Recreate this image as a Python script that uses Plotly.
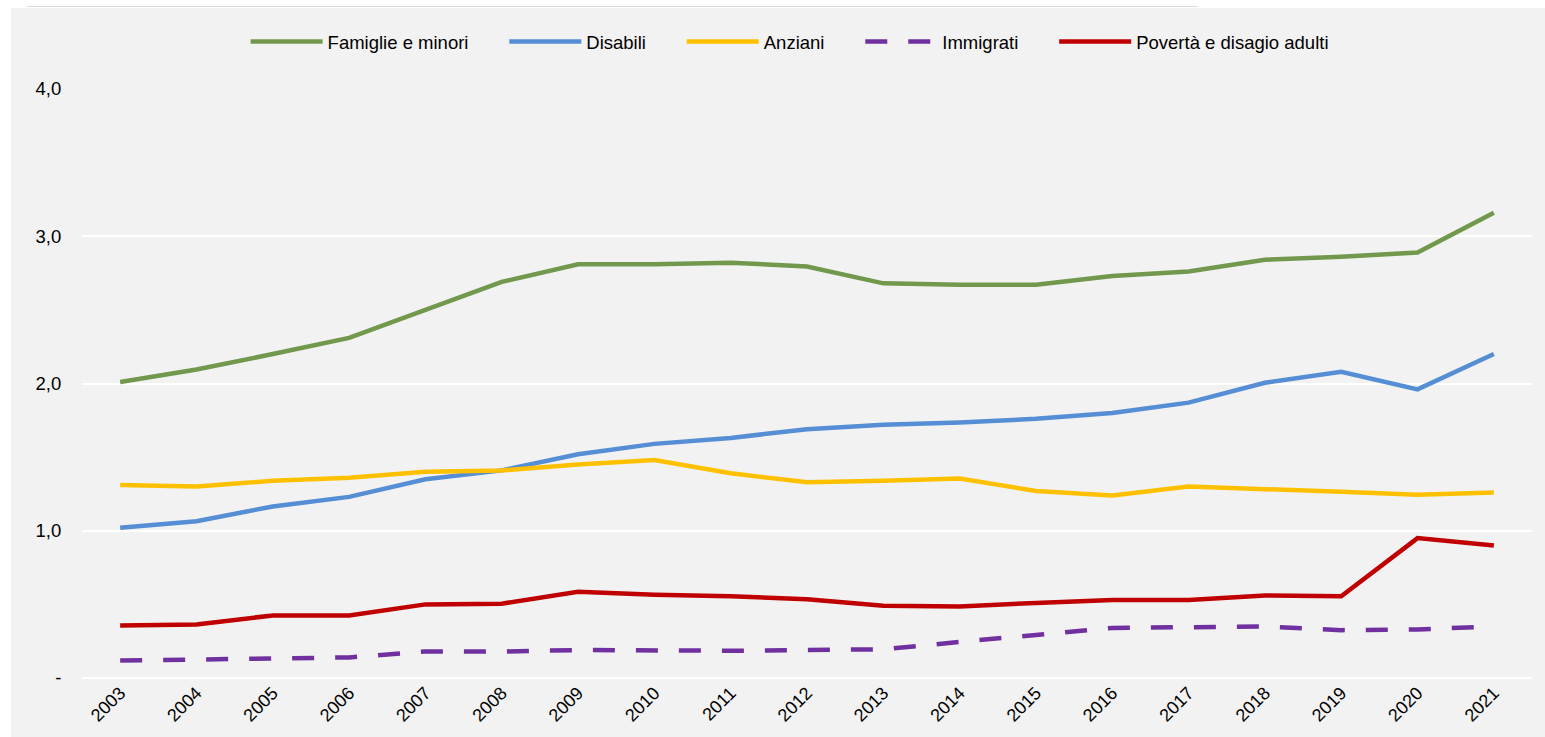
import plotly.graph_objects as go

# data
years = [str(y) for y in range(2003, 2022)]

famiglie = [2.01, 2.095, 2.20, 2.31, 2.50, 2.69, 2.81, 2.81, 2.82, 2.795,
            2.68, 2.67, 2.67, 2.73, 2.76, 2.84, 2.86, 2.89, 3.16]
disabili = [1.02, 1.065, 1.165, 1.23, 1.35, 1.41, 1.52, 1.59, 1.63, 1.69,
            1.72, 1.735, 1.76, 1.80, 1.87, 2.005, 2.08, 1.96, 2.20]
anziani = [1.31, 1.30, 1.34, 1.36, 1.40, 1.41, 1.45, 1.48, 1.39, 1.33,
           1.34, 1.355, 1.27, 1.24, 1.30, 1.285, 1.265, 1.245, 1.26]
immigrati = [0.118, 0.125, 0.13, 0.14, 0.18, 0.18, 0.19, 0.185, 0.185, 0.19,
             0.195, 0.245, 0.29, 0.34, 0.345, 0.35, 0.325, 0.33, 0.35]
poverta = [0.357, 0.364, 0.425, 0.425, 0.50, 0.505, 0.585, 0.565, 0.555, 0.535,
           0.49, 0.485, 0.51, 0.53, 0.53, 0.56, 0.555, 0.95, 0.90]

y_ticks = [0, 1, 2, 3, 4]
y_labels = ['-', '1,0', '2,0', '3,0', '4,0']

series = [
    ('Famiglie e minori', famiglie, '#71984c', 'solid'),
    ('Disabili', disabili, '#558ed5', 'solid'),
    ('Anziani', anziani, '#ffc000', 'solid'),
    ('Immigrati', immigrati, '#7030a0', '22px,21px'),
    ('Povertà e disagio adulti', poverta, '#c00000', 'solid'),
]

# extra room after each legend entry
PAD = '\u00a0' * 6

fig = go.Figure()
for i, (name, vals, color, dash) in enumerate(series):
    label = name if i == len(series) - 1 else name + PAD
    fig.add_trace(go.Scatter(x=years, y=vals, mode='lines', name=label,
                             line=dict(color=color, width=4.5, dash=dash)))

W, H = 1545, 737
L, R, T, B = 82, 13, 89, 59
pw, ph = W - L - R, H - T - B


def px_x(p):
    return (p - L) / pw


def px_y(p):
    return (H - B - p) / ph


# white strips around the grey chart area and the thin top rule
shapes = [
    dict(type='rect', xref='paper', yref='paper', x0=px_x(0), x1=px_x(11),
         y0=px_y(H), y1=px_y(0), fillcolor='white', line_width=0),
    dict(type='rect', xref='paper', yref='paper', x0=px_x(0), x1=px_x(W),
         y0=px_y(8), y1=px_y(0), fillcolor='white', line_width=0),
    dict(type='line', xref='paper', yref='paper', x0=px_x(27), x1=px_x(1198),
         y0=px_y(6.5), y1=px_y(6.5), line=dict(color='#dcdcd6', width=1)),
]

fig.update_layout(
    width=W, height=H,
    margin=dict(l=L, r=R, t=T, b=B),
    paper_bgcolor='#f2f2f2',
    plot_bgcolor='#f2f2f2',
    font=dict(family='Liberation Sans, Arial, sans-serif', size=18.5, color='#000000'),
    shapes=shapes,
    showlegend=True,
    legend=dict(orientation='h', x=0.488, xanchor='center', y=px_y(42), yanchor='middle',
                bgcolor='rgba(0,0,0,0)', font=dict(size=18.5), itemwidth=72),
    xaxis=dict(type='category', range=[-0.5, 18.5], tickangle=-45, showgrid=False,
               showline=False, ticks='', tickfont=dict(size=18)),
    yaxis=dict(range=[0, 4], tickvals=y_ticks, ticktext=y_labels, showgrid=True,
               gridcolor='white', gridwidth=1.5, zeroline=True, zerolinecolor='white',
               zerolinewidth=1.5, showline=False, ticks='outside', ticklen=16,
               tickcolor='rgba(0,0,0,0)', tickfont=dict(size=18.5)),
)

# drop the default page margin so the figure fills the window
fig.write_html("out.html", config={'displayModeBar': False},
               post_script="document.body.style.margin='0';"
                           "document.body.style.overflow='hidden';"
                           "document.documentElement.style.overflow='hidden';")
